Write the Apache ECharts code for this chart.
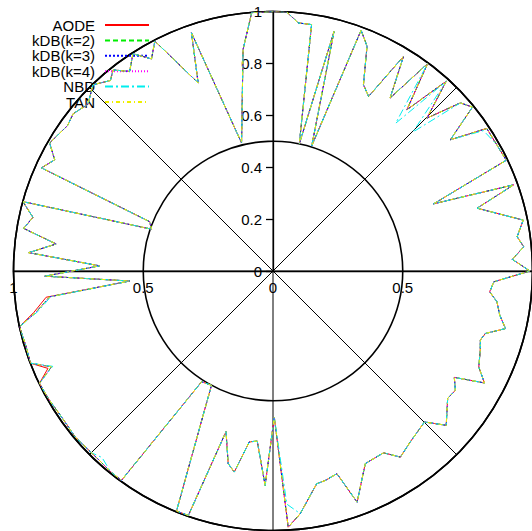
<!DOCTYPE html>
<html><head><meta charset="utf-8">
<script src="https://cdn.jsdelivr.net/npm/echarts@6/dist/echarts.min.js"></script>
<style>html,body{margin:0;padding:0;background:#fff}#c{width:532px;height:531px}</style>
</head><body><div id="c"></div>
<script>
const seriesNames = ['AODE', 'kDB(k=2)', 'kDB(k=3)', 'kDB(k=4)', 'NBD', 'TAN'];
// angular position of each dataset (degrees, counter-clockwise from the right)
const angles = [0, 2.8, 5.5, 8, 11.5, 17.1, 19.7, 22.7, 25.4, 29.5, 33.7, 36.5, 39.4, 41.9, 44.8, 47.6, 50.3, 53.3, 55.9, 58.7,
  61.3, 64.1, 67.3, 69.9, 72.8, 75.7, 78.3, 81.1, 84.2, 87, 89.6, 94.7, 97.7, 103.8, 108.9, 111.7, 117.2, 119.8, 122.8, 125.7,
  128.5, 130.5, 134, 138, 141.8, 144.7, 150.2, 153, 156, 158.2, 161, 164.5, 167.4, 170.3, 172.9, 175.7, 178.3, 181.3, 184, 186.6,
  189.8, 192.4, 197, 200.8, 203.4, 205.7, 210, 215, 220, 225, 227.5, 231, 234.1, 237.2, 241.7, 248.1, 250.9, 253.7, 256.9, 259.1,
  262.1, 264.7, 267.9, 270.5, 273.4, 276.4, 281.6, 284, 287.5, 290, 295.6, 301.3, 304.4, 308.7, 315.1, 318.3, 323.9, 326.8, 329.6, 332.1,
  335, 339.1, 341.6, 343.6, 346.1, 349, 352.2, 354.5, 357.2, 360];
const aode = [0.99, 0.923, 0.971, 0.95, 0.984, 0.823, 0.985, 0.671, 0.995, 0.99, 0.99, 0.85, 0.995, 0.97, 0.836, 0.99, 0.808, 0.997, 0.805, 0.968,
  0.767, 0.798, 0.939, 0.988, 0.505, 0.953, 0.5, 0.961, 0.961, 1.0, 1.0, 1.0, 0.861, 0.508, 0.97, 0.78, 0.996, 0.942, 0.996, 0.947,
  0.99, 0.965, 0.998, 0.96, 0.98, 0.97, 0.992, 0.944, 0.977, 0.512, 0.495, 1.0, 0.948, 0.975, 0.842, 0.944, 0.668, 0.88, 0.553, 0.88,
  0.935, 1.0, 0.995, 1.0, 0.945, 0.999, 0.995, 0.99, 0.995, 0.99, 0.99, 0.995, 0.996, 0.508, 0.5, 0.997, 0.997, 0.645, 0.762, 0.789,
  0.665, 0.658, 0.827, 0.563, 0.989, 0.941, 0.837, 0.832, 0.819, 0.948, 0.823, 0.82, 0.869, 0.845, 0.824, 0.894, 0.833, 0.84, 0.81, 0.922,
  0.875, 0.855, 0.842, 0.853, 0.923, 0.89, 0.871, 0.839, 0.852, 0.99];
const kdb2 = [0.99, 0.923, 0.971, 0.95, 0.984, 0.823, 0.985, 0.671, 0.995, 0.99, 0.99, 0.85, 0.995, 0.97, 0.836, 0.99, 0.808, 0.997, 0.805, 0.968,
  0.767, 0.798, 0.939, 0.988, 0.505, 0.953, 0.5, 0.961, 0.961, 1.0, 1.0, 1.0, 0.861, 0.508, 0.97, 0.78, 0.996, 0.942, 0.996, 0.947,
  0.99, 0.965, 0.998, 0.96, 0.98, 0.97, 0.992, 0.944, 0.977, 0.512, 0.495, 1.0, 0.948, 0.975, 0.842, 0.944, 0.668, 0.88, 0.553, 0.867,
  0.926, 1.0, 0.995, 1.0, 0.93, 0.999, 0.995, 0.99, 0.995, 0.99, 0.99, 0.995, 0.996, 0.508, 0.5, 0.997, 0.997, 0.645, 0.762, 0.789,
  0.665, 0.658, 0.827, 0.563, 0.989, 0.941, 0.837, 0.832, 0.819, 0.948, 0.823, 0.82, 0.869, 0.845, 0.824, 0.894, 0.833, 0.84, 0.81, 0.922,
  0.875, 0.855, 0.842, 0.853, 0.923, 0.89, 0.871, 0.839, 0.852, 0.99];
const kdb3 = [0.99, 0.923, 0.971, 0.95, 0.984, 0.823, 0.985, 0.671, 0.995, 0.99, 0.99, 0.85, 0.995, 0.97, 0.836, 0.99, 0.808, 0.997, 0.805, 0.968,
  0.767, 0.798, 0.939, 0.988, 0.505, 0.953, 0.5, 0.961, 0.961, 1.0, 1.0, 1.0, 0.861, 0.508, 0.97, 0.78, 0.996, 0.942, 0.996, 0.947,
  0.99, 0.965, 0.998, 0.96, 0.98, 0.97, 0.992, 0.944, 0.977, 0.512, 0.495, 1.0, 0.948, 0.975, 0.842, 0.944, 0.668, 0.88, 0.553, 0.867,
  0.926, 1.0, 0.995, 1.0, 0.93, 0.999, 0.995, 0.99, 0.995, 0.99, 0.99, 0.995, 0.996, 0.508, 0.5, 0.997, 0.997, 0.645, 0.762, 0.789,
  0.665, 0.658, 0.827, 0.563, 0.989, 0.941, 0.837, 0.832, 0.819, 0.948, 0.823, 0.82, 0.869, 0.845, 0.824, 0.894, 0.833, 0.84, 0.81, 0.922,
  0.875, 0.855, 0.842, 0.853, 0.923, 0.89, 0.871, 0.839, 0.852, 0.99];
const kdb4 = [0.99, 0.923, 0.971, 0.95, 0.984, 0.823, 0.985, 0.671, 0.995, 0.99, 0.99, 0.85, 0.995, 0.97, 0.836, 0.99, 0.808, 0.997, 0.805, 0.968,
  0.767, 0.798, 0.939, 0.988, 0.505, 0.953, 0.5, 0.961, 0.961, 1.0, 1.0, 1.0, 0.861, 0.508, 0.97, 0.78, 0.996, 0.942, 0.996, 0.947,
  0.99, 0.965, 0.998, 0.96, 0.98, 0.97, 0.992, 0.944, 0.977, 0.512, 0.495, 1.0, 0.948, 0.975, 0.842, 0.944, 0.668, 0.88, 0.553, 0.867,
  0.926, 1.0, 0.995, 1.0, 0.93, 0.999, 0.995, 0.99, 0.995, 0.99, 0.99, 0.995, 0.996, 0.508, 0.5, 0.997, 0.997, 0.645, 0.762, 0.789,
  0.665, 0.658, 0.827, 0.563, 0.989, 0.941, 0.837, 0.832, 0.819, 0.948, 0.823, 0.82, 0.869, 0.845, 0.824, 0.894, 0.833, 0.84, 0.81, 0.922,
  0.875, 0.855, 0.842, 0.853, 0.923, 0.89, 0.871, 0.839, 0.852, 0.99];
const nbd = [0.99, 0.923, 0.971, 0.95, 0.984, 0.823, 0.985, 0.671, 0.995, 0.99, 0.975, 0.85, 0.995, 0.97, 0.76, 0.99, 0.74, 0.997, 0.805, 0.968,
  0.767, 0.798, 0.939, 0.988, 0.505, 0.953, 0.5, 0.961, 0.961, 1.0, 1.0, 1.0, 0.861, 0.508, 0.97, 0.78, 0.996, 0.942, 0.996, 0.947,
  0.99, 0.965, 0.998, 0.96, 0.98, 0.97, 0.992, 0.944, 0.977, 0.512, 0.495, 1.0, 0.948, 0.975, 0.842, 0.944, 0.668, 0.88, 0.553, 0.862,
  0.92, 1.0, 0.995, 1.0, 0.925, 0.999, 0.995, 0.99, 0.995, 0.99, 0.975, 0.995, 0.996, 0.508, 0.5, 0.997, 0.997, 0.645, 0.762, 0.789,
  0.665, 0.658, 0.827, 0.563, 0.9, 0.941, 0.837, 0.832, 0.819, 0.948, 0.823, 0.82, 0.869, 0.845, 0.824, 0.894, 0.833, 0.84, 0.81, 0.922,
  0.875, 0.855, 0.842, 0.853, 0.923, 0.89, 0.871, 0.839, 0.852, 0.99];
const tan = [0.99, 0.923, 0.971, 0.95, 0.984, 0.823, 0.985, 0.671, 0.995, 0.99, 0.99, 0.85, 0.995, 0.97, 0.836, 0.99, 0.808, 0.997, 0.805, 0.968,
  0.767, 0.798, 0.939, 0.988, 0.505, 0.953, 0.5, 0.961, 0.961, 1.0, 1.0, 1.0, 0.861, 0.508, 0.97, 0.78, 0.996, 0.942, 0.996, 0.947,
  0.99, 0.965, 0.998, 0.96, 0.98, 0.97, 0.992, 0.944, 0.977, 0.512, 0.495, 1.0, 0.948, 0.975, 0.842, 0.944, 0.668, 0.88, 0.553, 0.867,
  0.926, 1.0, 0.995, 1.0, 0.93, 0.999, 0.995, 0.99, 0.995, 0.99, 0.99, 0.995, 0.996, 0.508, 0.5, 0.997, 0.997, 0.645, 0.762, 0.789,
  0.665, 0.658, 0.827, 0.563, 0.989, 0.941, 0.837, 0.832, 0.819, 0.948, 0.823, 0.82, 0.869, 0.845, 0.824, 0.894, 0.833, 0.84, 0.81, 0.922,
  0.875, 0.855, 0.842, 0.853, 0.923, 0.89, 0.871, 0.839, 0.852, 0.99];
const seriesValues = [aode, kdb2, kdb3, kdb4, nbd, tan];
const verticalTicks = [0, 0.2, 0.4, 0.6, 0.8, 1];
const horizontalTicks = [0, 0.5, 1];

const colors = ['#ff0000', '#00ee00', '#0000ff', '#ff00ff', '#00eeee', '#eeee00'];
const dashes = ['solid', [5, 3], [2, 2], [1, 2], [8, 3, 2, 3], [4, 3, 1, 3]];
const FONT = 'Liberation Sans';
const C = [273, 271], R = 259.5;

const chart = echarts.init(document.getElementById('c'), null, {renderer: 'svg'});
const black = '#000';
chart.setOption({
  animation: false,
  backgroundColor: '#fff',
  legend: {
    orient: 'vertical', right: 377, top: 12.5, align: 'right',
    itemWidth: 44, itemHeight: 12, itemGap: 0.4,
    selectedMode: false,
    textStyle: {fontFamily: FONT, fontSize: 15, color: black, lineHeight: 15, padding: [0, 5, 0, 0]},
    itemStyle: {opacity: 0},
    data: seriesNames
  },
  polar: [
    {center: C, radius: R},
    {center: C, radius: R},
    {center: C, radius: R}
  ],
  angleAxis: [
    {polarIndex: 0, type: 'value', min: 0, max: 360, interval: 45, startAngle: 0, clockwise: false,
      axisLine: {show: true, lineStyle: {color: black, width: 1.6}},
      axisTick: {show: false}, axisLabel: {show: false},
      splitLine: {show: true, lineStyle: {color: black, width: 1}}},
    {polarIndex: 1, type: 'value', min: 0, max: 360, startAngle: 180, show: false},
    {polarIndex: 2, type: 'value', min: 0, max: 360, startAngle: 90, show: false}
  ],
  radiusAxis: [
    {polarIndex: 0, type: 'value', min: horizontalTicks[0], max: horizontalTicks[2], interval: horizontalTicks[1] - horizontalTicks[0],
      axisLine: {show: true, lineStyle: {color: black, width: 1.3}},
      axisTick: {show: false},
      axisLabel: {show: true, margin: -9, verticalAlign: 'top', fontFamily: FONT, fontSize: 15, color: black,
        formatter: v => (v === horizontalTicks[1]) ? String(v) : ''},
      splitLine: {show: true, lineStyle: {color: black, width: 1.6}}},
    {polarIndex: 1, type: 'value', min: horizontalTicks[0], max: horizontalTicks[2], interval: horizontalTicks[1] - horizontalTicks[0],
      axisLine: {show: true, lineStyle: {color: black, width: 1.3}},
      axisTick: {show: false},
      axisLabel: {show: true, margin: 9, fontFamily: FONT, fontSize: 15, color: black},
      splitLine: {show: false}},
    {polarIndex: 2, type: 'value', min: verticalTicks[0], max: verticalTicks[verticalTicks.length - 1], interval: verticalTicks[1] - verticalTicks[0],
      axisLine: {show: true, lineStyle: {color: black, width: 1.3}},
      axisTick: {show: true, inside: true, length: 7, lineStyle: {color: black, width: 1.3}},
      axisLabel: {show: true, margin: 11, fontFamily: FONT, fontSize: 15, color: black},
      splitLine: {show: false}}
  ],
  series: seriesNames.map((name, k) => ({
    name, type: 'line', coordinateSystem: 'polar', polarIndex: 0,
    symbol: 'none', showSymbol: false, z: 3 + k,
    lineStyle: {color: colors[k], width: 1, type: dashes[k]},
    itemStyle: {color: colors[k]},
    data: angles.map((a, i) => [seriesValues[k][i], a])
  }))
});
</script></body></html>
